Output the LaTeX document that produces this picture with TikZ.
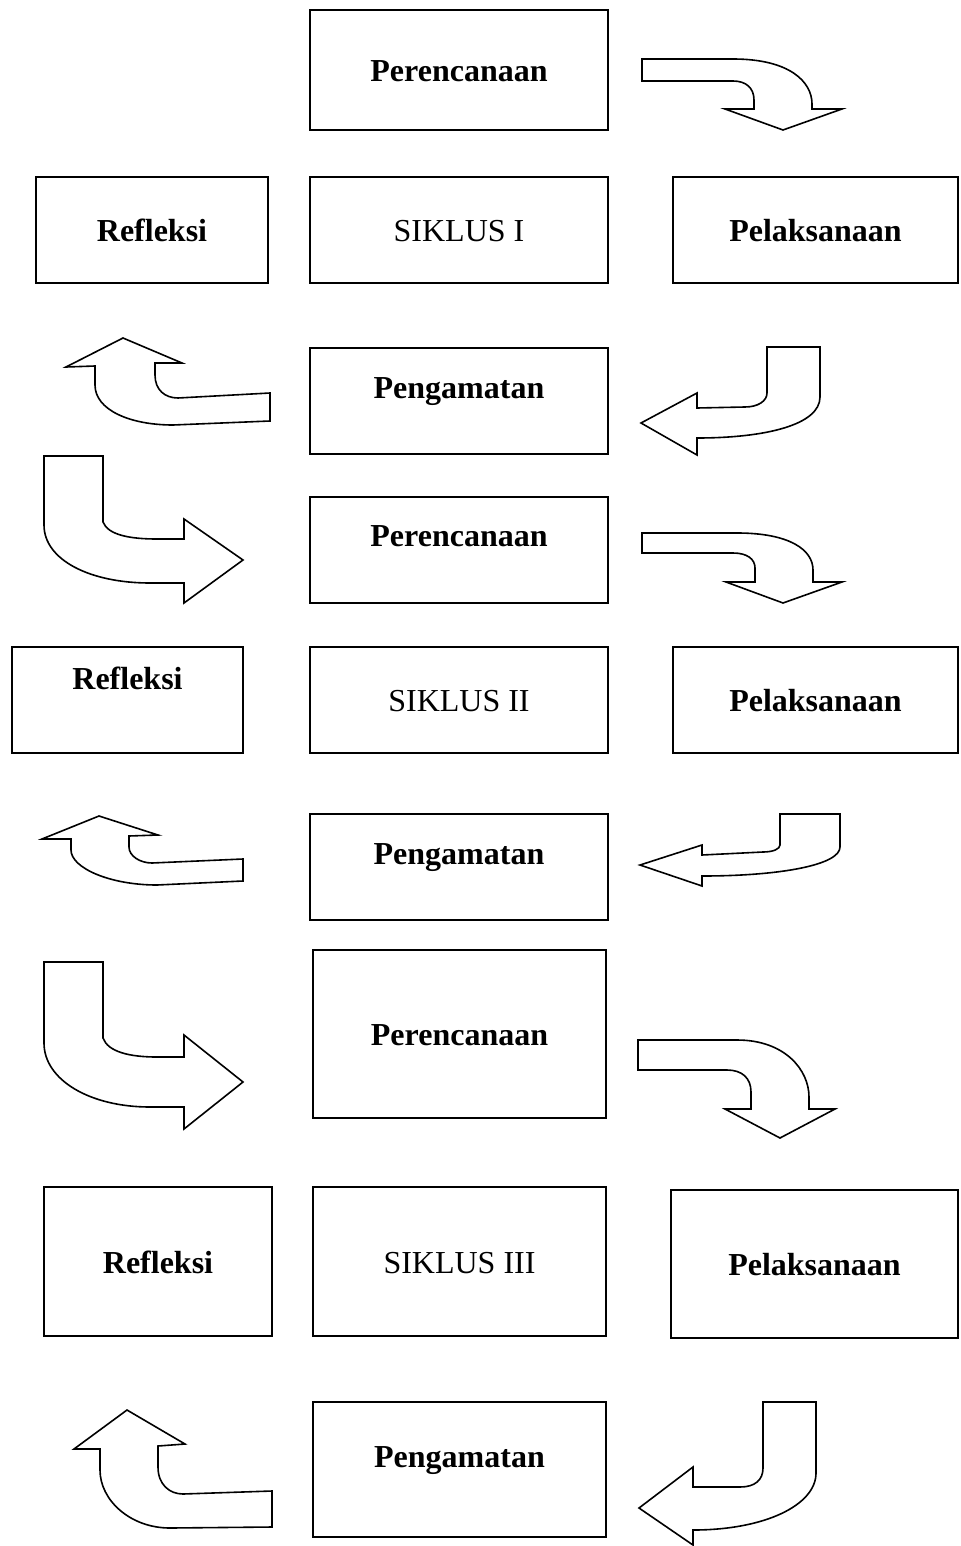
\documentclass[tikz,border=0pt]{standalone}
\usepackage{fontspec}
\setmainfont{Liberation Serif}
\usetikzlibrary{positioning}

\begin{document}
\begin{tikzpicture}[x=0.5pt,y=-0.5pt,line width=0.8pt,
                    box/.style={draw,rectangle,inner sep=0pt,text height=15pt,text depth=3.5pt,
                                font=\fontsize{16}{19}\selectfont\bfseries},
                    plain/.style={font=\fontsize{16}{19}\selectfont\mdseries},
                    up/.style={text depth=#1},
                    bent/.style={draw,line join=miter,fill=white}]

  \useasboundingbox (0,0) rectangle (960,1546);

  \node[box,minimum width=149pt,minimum height=60pt]               (p1) at (459,70)     {Perencanaan};
  \node[box,minimum width=116pt,minimum height=53pt]               (r1) at (152,230)    {Refleksi};
  \node[box,plain,minimum width=149pt,minimum height=53pt]         (s1) at (459,230)    {SIKLUS I};
  \node[box,minimum width=142.5pt,minimum height=53pt]             (l1) at (815.5,230)  {Pelaksanaan};
  \node[box,up=17.5pt,minimum width=149pt,minimum height=53pt]     (a1) at (459,401)    {Pengamatan};

  \node[box,up=18.5pt,minimum width=149pt,minimum height=53pt]     (p2) at (459,550)    {Perencanaan};
  \node[box,up=25.5pt,minimum width=115.5pt,minimum height=53pt]   (r2) at (127.5,700)  {Refleksi};
  \node[box,plain,minimum width=149pt,minimum height=53pt]         (s2) at (459,700)    {SIKLUS II};
  \node[box,minimum width=142.5pt,minimum height=53pt]             (l2) at (815.5,700)  {Pelaksanaan};
  \node[box,up=17.5pt,minimum width=149pt,minimum height=53pt]     (a2) at (459,867)    {Pengamatan};

  \node[box,minimum width=146.5pt,minimum height=84pt]             (p3) at (459.5,1034) {Perencanaan};
  \node[box,minimum width=114pt,minimum height=74.5pt]             (r3) at (158,1261.5) {Refleksi};
  \node[box,plain,minimum width=146.5pt,minimum height=74.5pt]     (s3) at (459.5,1261.5) {SIKLUS III};
  \node[box,minimum width=143.5pt,minimum height=74pt]             (l3) at (814.5,1264) {Pelaksanaan};
  \node[box,up=17.5pt,minimum width=146.5pt,minimum height=67.5pt] (a3) at (459.5,1469.5) {Pengamatan};

  \path[bent] (642,59) -- (733,59) .. controls (790,59) and (812,82) .. (812,104) -- (812,109)
              -- (842,109) -- (783,130) -- (725,109) -- (754,109) -- (754,100)
              .. controls (754,88) and (746,81) .. (733,81) -- (642,81) -- cycle;
  \path[bent] (767,347) -- (820,347) -- (820,397) .. controls (820,425) and (765,438) .. (697,438)
              -- (697,455) -- (641,423) -- (697,393) -- (697,408) -- (745,407)
              .. controls (758,407) and (767,401) .. (767,393) -- cycle;
  \path[bent] (123,338) -- (182,363) -- (155,363) -- (155,375) .. controls (155,390) and (165,398) .. (178,398)
              -- (270,393) -- (270,421) -- (173,425) .. controls (130,425) and (95,410) .. (95,385)
              -- (95,366) -- (66,367) -- cycle;
  \path[bent] (44,456) -- (103,456) -- (103,522) .. controls (108,535) and (130,539) .. (157,539)
              -- (184,539) -- (184,519) -- (243,560) -- (184,603) -- (184,583) -- (150,583)
              .. controls (90,583) and (44,560) .. (44,525) -- cycle;

  \path[bent] (642,533) -- (737,533) .. controls (790,533) and (813,550) .. (813,570) -- (813,582)
              -- (842,582) -- (783,603) -- (726,582) -- (755,582) -- (755,568)
              .. controls (755,559) and (747,553) .. (733,553) -- (642,553) -- cycle;
  \path[bent] (780,814) -- (840,814) -- (840,847) .. controls (840,865) and (780,876) .. (702,876)
              -- (702,886) -- (640,865) -- (702,845) -- (702,855) -- (763,852)
              .. controls (773,852) and (780,849) .. (780,845) -- cycle;
  \path[bent] (99,816) -- (158,835) -- (129,836) -- (129,847) .. controls (129,856) and (140,863) .. (152,863)
              -- (243,859) -- (243,881) -- (157,885) .. controls (110,885) and (71,868) .. (71,850)
              -- (71,839) -- (42,839) -- cycle;
  \path[bent] (44,962) -- (103,962) -- (103,1038) .. controls (108,1052) and (130,1057) .. (157,1057)
              -- (184,1057) -- (184,1035) -- (243,1082) -- (184,1129) -- (184,1107) -- (150,1107)
              .. controls (90,1107) and (44,1080) .. (44,1043) -- cycle;

  \path[bent] (638,1040) -- (737,1040) .. controls (785,1040) and (809,1070) .. (809,1097) -- (809,1109)
              -- (835,1109) -- (780,1138) -- (725,1109) -- (751,1109) -- (751,1092)
              .. controls (751,1078) and (742,1070) .. (727,1070) -- (638,1070) -- cycle;
  \path[bent] (763,1402) -- (816,1402) -- (816,1473) .. controls (816,1505) and (765,1530) .. (693,1530)
              -- (693,1545) -- (639,1508) -- (693,1467) -- (693,1487) -- (740,1487)
              .. controls (755,1487) and (763,1480) .. (763,1468) -- cycle;
  \path[bent] (127,1410) -- (185,1444) -- (158,1446) -- (158,1467) .. controls (158,1485) and (170,1494) .. (183,1494)
              -- (272,1491) -- (272,1527) -- (170,1528) .. controls (130,1528) and (100,1500) .. (100,1470)
              -- (100,1449) -- (74,1449) -- cycle;
\end{tikzpicture}
\end{document}
